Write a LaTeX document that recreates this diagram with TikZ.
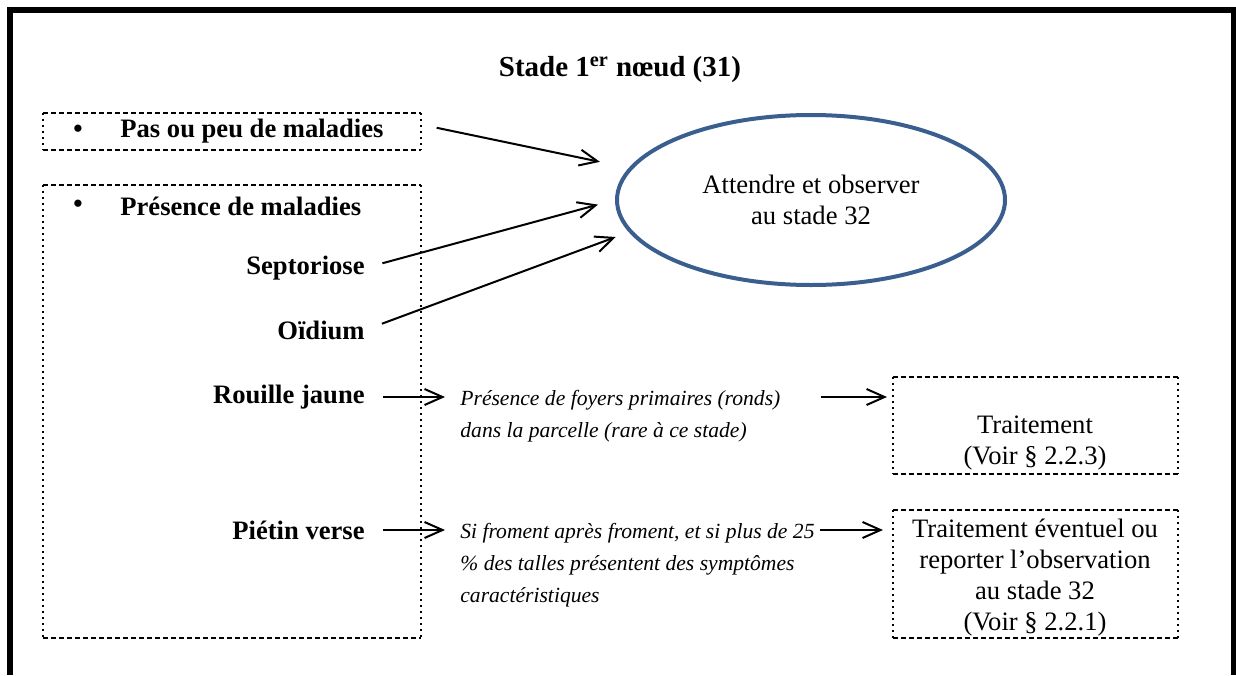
\documentclass[tikz,border=0pt]{standalone}
\usepackage{fontspec}
\setmainfont{Liberation Serif}
\usetikzlibrary{arrows.meta, positioning, shapes.geometric, calc}
\definecolor{ovalblue}{HTML}{3A5F8F}

\begin{document}
\begin{tikzpicture}[
  x=0.5pt, y=-0.5pt,
  frame/.style={inner sep=0pt, outer sep=0pt},
  dashline/.style={line width=0.7pt, dash pattern=on 2.5pt off 1.5pt},
  dotline/.style={line width=0.7pt, dash pattern=on 1pt off 2pt},
  lbl/.style={font=\fontsize{13.3}{16}\selectfont\bfseries, inner sep=0pt},
  note/.style={font=\fontsize{10.8}{16}\selectfont\itshape, align=left, inner sep=0pt},
  result/.style={font=\fontsize{13.3}{15.5}\selectfont, align=center, inner sep=0pt},
  arrline/.style={line width=1pt},
  >={Straight Barb[length=9pt, width=8pt]}
]
\useasboundingbox (0,0) rectangle (1236,675);
\draw[line width=3pt, line join=miter] (10,675) -- (10,9.5) -- (1233.5,9.5) -- (1233.5,675);

\node[font=\fontsize{14.5}{17}\selectfont\bfseries] (title) at (620,70) {Stade 1\textsuperscript{er} nœud (31)};

% cadres
\node[frame, minimum width=189pt, minimum height=18.5pt] (pasbox) at (232,131.5) {};
\node[frame, minimum width=189pt, minimum height=226.5pt] (presbox) at (232,411.5) {};
\node[frame, minimum width=142.5pt, minimum height=48.5pt] (traitbox) at (1035.5,425.5) {};
\node[frame, minimum width=142.5pt, minimum height=64pt] (reportbox) at (1035.5,574) {};
\foreach \b in {pasbox,presbox,traitbox,reportbox} {
  \draw[dashline] (\b.north west) -- (\b.north east) (\b.south west) -- (\b.south east);
  \draw[dotline] (\b.north west) -- (\b.south west) (\b.north east) -- (\b.south east);
}

\node[ellipse, draw=ovalblue, line width=2pt, minimum width=194pt, minimum height=85pt, result] (observe) at (811,200) {Attendre et observer\\au stade 32};

% maladies
\node[lbl] (dot1) at (78,131) {\textbullet};
\node[lbl, anchor=west] (pas) at (120,131) {Pas ou peu de maladies};
\node[lbl] (dot2) at (78,206) {\textbullet};
\node[lbl, anchor=west] (pres) at (120,206) {Présence de maladies};
\node[lbl, anchor=east] (sept) at (365,268) {Septoriose};
\node[lbl, anchor=east] (oid) at (365,330) {Oïdium};
\node[lbl, anchor=east] (rouille) at (365,397) {Rouille jaune};
\node[lbl, anchor=east] (pietin) at (365,530) {Piétin verse};

\node[note, anchor=west] (foyers) at (460,416) {Présence de foyers primaires (ronds)\\dans la parcelle (rare à ce stade)};
\node[note, anchor=west] (froment) at (460,565) {Si froment après froment, et si plus de 25\\\% des talles présentent des symptômes\\caractéristiques};

\node[result] (traittxt) at (1035,443) {Traitement\\(Voir § 2.2.3)};
\node[result] (reporttxt) at (1035,578) {Traitement éventuel ou\\reporter l’observation\\au stade 32\\(Voir § 2.2.1)};

% fleches
\draw[->, arrline, shorten <=8pt, shorten >=14.8pt] ([yshift=3.5pt]pasbox.east) -- (observe.170);
\draw[->, arrline, shorten <=9pt, shorten >=8.8pt] (sept.east) -- (observe.west);
\draw[->, arrline, shorten <=9pt, shorten >=7pt] (oid.east) -- (observe.190);
\draw[->, arrline, shorten <=9pt, shorten >=7.5pt] (rouille.east) -- (rouille.east -| foyers.west);
\draw[->, arrline, shorten <=9pt, shorten >=7.5pt] (pietin.east) -- (pietin.east -| froment.west);
\draw[->, arrline, shorten <=20pt, shorten >=3pt] (foyers.east |- rouille.east) -- (traitbox.west |- rouille.east);
\draw[->, arrline, shorten <=2.5pt, shorten >=5pt] (froment.east |- pietin.east) -- (reportbox.west |- pietin.east);
\end{tikzpicture}
\end{document}
